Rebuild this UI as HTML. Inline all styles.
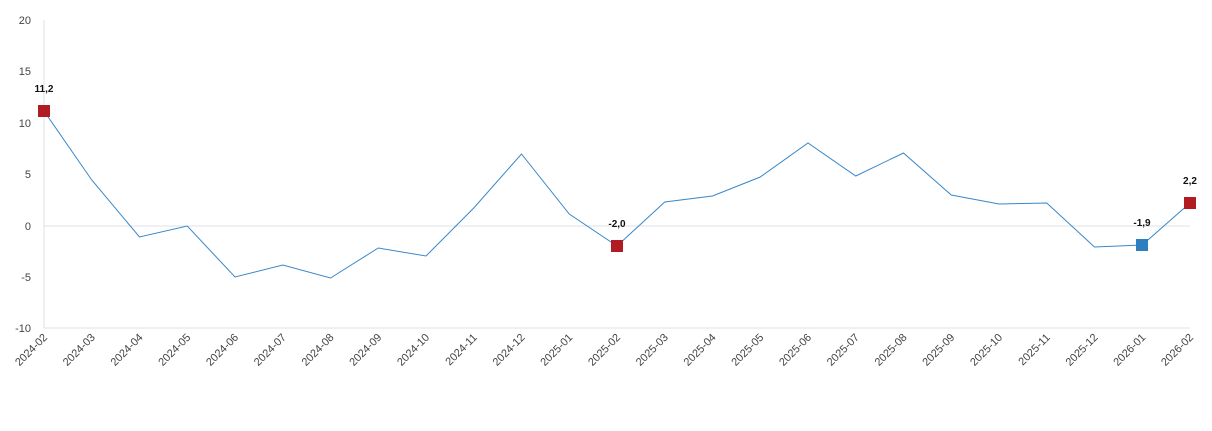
<!DOCTYPE html>
<html><head><meta charset="utf-8"><style>
body{margin:0;background:#fff;}
svg text{font-family:"Liberation Sans",sans-serif;}
</style></head><body>
<svg width="1212" height="426" viewBox="0 0 1212 426" xmlns="http://www.w3.org/2000/svg">
<line x1="44" y1="20" x2="44" y2="328" stroke="#dde1ea" stroke-width="1"/>
<line x1="44" y1="328" x2="1190" y2="328" stroke="#dde1ea" stroke-width="1"/>
<line x1="44" y1="226" x2="1190" y2="226" stroke="#dde1ea" stroke-width="1"/>
<g font-size="11" fill="#444" text-anchor="end">
<text x="31" y="24">20</text>
<text x="31" y="75">15</text>
<text x="31" y="127">10</text>
<text x="31" y="178">5</text>
<text x="31" y="230">0</text>
<text x="31" y="281">-5</text>
<text x="31" y="332">-10</text>
</g>
<polyline fill="none" stroke="#3a87c8" stroke-width="1" points="44,111 91.75,180 139.5,237 187.25,226 235,277 282.75,265 330.5,278 378.25,248 426,256 473.75,208 521.5,154 569.25,214 617,246 664.75,202 712.5,196 760.25,177 808,143 855.75,176 903.5,153 951.25,195 999,204 1046.75,203 1094.5,247 1142.25,245 1190,203"/>
<rect x="38" y="105" width="12" height="12" fill="#b01c22"/>
<rect x="611" y="240" width="12" height="12" fill="#b01c22"/>
<rect x="1136" y="239" width="12" height="12" fill="#2e7fc0"/>
<rect x="1184" y="197" width="12" height="12" fill="#b01c22"/>
<g font-size="10" font-weight="bold" fill="#111" text-anchor="middle">
<text x="44" y="92">11,2</text>
<text x="617" y="227">-2,0</text>
<text x="1142" y="226">-1,9</text>
<text x="1190" y="184">2,2</text>
</g>
<g font-size="11" fill="#444" text-anchor="end">
<text transform="translate(48,338) rotate(-45)">2024-02</text>
<text transform="translate(95.75,338) rotate(-45)">2024-03</text>
<text transform="translate(143.5,338) rotate(-45)">2024-04</text>
<text transform="translate(191.25,338) rotate(-45)">2024-05</text>
<text transform="translate(239,338) rotate(-45)">2024-06</text>
<text transform="translate(286.75,338) rotate(-45)">2024-07</text>
<text transform="translate(334.5,338) rotate(-45)">2024-08</text>
<text transform="translate(382.25,338) rotate(-45)">2024-09</text>
<text transform="translate(430,338) rotate(-45)">2024-10</text>
<text transform="translate(477.75,338) rotate(-45)">2024-11</text>
<text transform="translate(525.5,338) rotate(-45)">2024-12</text>
<text transform="translate(573.25,338) rotate(-45)">2025-01</text>
<text transform="translate(621,338) rotate(-45)">2025-02</text>
<text transform="translate(668.75,338) rotate(-45)">2025-03</text>
<text transform="translate(716.5,338) rotate(-45)">2025-04</text>
<text transform="translate(764.25,338) rotate(-45)">2025-05</text>
<text transform="translate(812,338) rotate(-45)">2025-06</text>
<text transform="translate(859.75,338) rotate(-45)">2025-07</text>
<text transform="translate(907.5,338) rotate(-45)">2025-08</text>
<text transform="translate(955.25,338) rotate(-45)">2025-09</text>
<text transform="translate(1003,338) rotate(-45)">2025-10</text>
<text transform="translate(1050.75,338) rotate(-45)">2025-11</text>
<text transform="translate(1098.5,338) rotate(-45)">2025-12</text>
<text transform="translate(1146.25,338) rotate(-45)">2026-01</text>
<text transform="translate(1194,338) rotate(-45)">2026-02</text>
</g>
</svg>
</body></html>
